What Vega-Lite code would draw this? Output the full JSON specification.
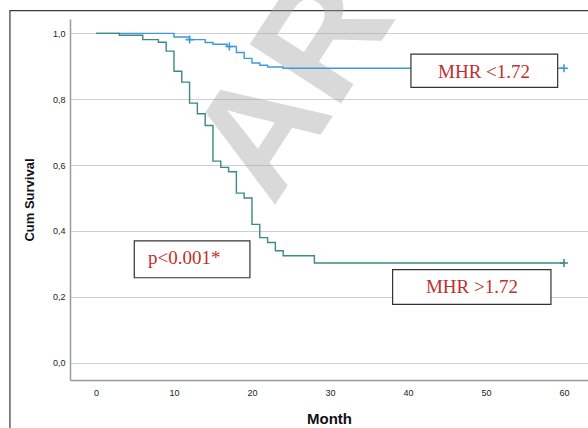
{
  "$schema": "https://vega.github.io/schema/vega-lite/v6.json",
  "width": 518,
  "height": 361,
  "autosize": {"type": "none"},
  "padding": {"left": 70, "top": 19, "right": 0, "bottom": 48},
  "background": "white",
  "config": {"view": {"stroke": null}, "font": "Liberation Sans"},
  "datasets": {
    "curves": [
      {"group": "MHR <1.72", "t": 0, "s": 1.0},
      {"group": "MHR <1.72", "t": 10, "s": 0.989},
      {"group": "MHR <1.72", "t": 12, "s": 0.981},
      {"group": "MHR <1.72", "t": 14, "s": 0.972},
      {"group": "MHR <1.72", "t": 15, "s": 0.967},
      {"group": "MHR <1.72", "t": 16.8, "s": 0.960},
      {"group": "MHR <1.72", "t": 18, "s": 0.942},
      {"group": "MHR <1.72", "t": 19, "s": 0.924},
      {"group": "MHR <1.72", "t": 20, "s": 0.910},
      {"group": "MHR <1.72", "t": 21, "s": 0.903},
      {"group": "MHR <1.72", "t": 22, "s": 0.898},
      {"group": "MHR <1.72", "t": 24, "s": 0.894},
      {"group": "MHR <1.72", "t": 60, "s": 0.894},
      {"group": "MHR >1.72", "t": 0, "s": 1.0},
      {"group": "MHR >1.72", "t": 3, "s": 0.994},
      {"group": "MHR >1.72", "t": 6, "s": 0.981},
      {"group": "MHR >1.72", "t": 8, "s": 0.973},
      {"group": "MHR >1.72", "t": 9, "s": 0.946},
      {"group": "MHR >1.72", "t": 10, "s": 0.885},
      {"group": "MHR >1.72", "t": 11, "s": 0.852},
      {"group": "MHR >1.72", "t": 12, "s": 0.788},
      {"group": "MHR >1.72", "t": 13, "s": 0.756},
      {"group": "MHR >1.72", "t": 14, "s": 0.720},
      {"group": "MHR >1.72", "t": 15, "s": 0.612},
      {"group": "MHR >1.72", "t": 16, "s": 0.593},
      {"group": "MHR >1.72", "t": 17, "s": 0.580},
      {"group": "MHR >1.72", "t": 18, "s": 0.515},
      {"group": "MHR >1.72", "t": 19, "s": 0.500},
      {"group": "MHR >1.72", "t": 20, "s": 0.420},
      {"group": "MHR >1.72", "t": 21, "s": 0.380},
      {"group": "MHR >1.72", "t": 22, "s": 0.365},
      {"group": "MHR >1.72", "t": 23, "s": 0.340},
      {"group": "MHR >1.72", "t": 24, "s": 0.325},
      {"group": "MHR >1.72", "t": 28, "s": 0.303},
      {"group": "MHR >1.72", "t": 60, "s": 0.303}
    ],
    "censor": [
      {"group": "MHR <1.72", "t": 12, "s": 0.981},
      {"group": "MHR <1.72", "t": 17.1, "s": 0.960},
      {"group": "MHR <1.72", "t": 60, "s": 0.894},
      {"group": "MHR >1.72", "t": 60, "s": 0.303}
    ],
    "boxes": [
      {"t": 40.38, "t2": 59.19, "s": 0.937, "s2": 0.836},
      {"t": 4.91, "t2": 19.74, "s": 0.370, "s2": 0.258},
      {"t": 38.03, "t2": 58.33, "s": 0.283, "s2": 0.177}
    ],
    "labels": [
      {"label": "MHR <1.72", "t": 49.75, "s": 0.883},
      {"label": "p<0.001*", "t": 11.31, "s": 0.3185},
      {"label": "MHR >1.72", "t": 48.2, "s": 0.229}
    ],
    "frame": [
      {"t": -11.03, "t2": 120, "s": 1.0687, "s2": -1.5}
    ],
    "wm": [
      {"label": "ARTICLE IN PRESS", "t": 22.7, "s": 0.47}
    ]
  },
  "encoding": {
    "x": {
      "field": "t",
      "type": "quantitative",
      "scale": {"domain": [-3.33, 63.08], "nice": false, "zero": false},
      "axis": {
        "values": [0, 10, 20, 30, 40, 50, 60],
        "title": "Month",
        "grid": false,
        "ticks": false,
        "labelFontSize": 9,
        "labelPadding": 8,
        "labelColor": "#222222",
        "titleFontSize": 15,
        "titleFontWeight": "bold",
        "titleColor": "#111111",
        "titlePadding": 14,
        "domainColor": "#9a9a9a",
        "domainWidth": 1.5
      }
    },
    "y": {
      "field": "s",
      "type": "quantitative",
      "scale": {"domain": [-0.0523, 1.0435], "nice": false, "zero": false},
      "axis": {
        "values": [0, 0.2, 0.4, 0.6, 0.8, 1],
        "labelExpr": "replace(format(datum.value, '.1f'), '.', ',')",
        "title": "Cum Survival",
        "grid": true,
        "gridColor": "#cfcfcf",
        "gridWidth": 1,
        "ticks": false,
        "labelFontSize": 9,
        "labelPadding": 5,
        "labelColor": "#222222",
        "titleFontSize": 13,
        "titleFontWeight": "bold",
        "titleColor": "#111111",
        "titlePadding": 16,
        "domainColor": "#9a9a9a",
        "domainWidth": 1.5
      }
    }
  },
  "layer": [
    {
      "data": {"name": "frame"},
      "mark": {"type": "rect", "fill": "transparent", "stroke": "#3a3a3a", "strokeWidth": 1.2},
      "encoding": {"x2": {"field": "t2"}, "y2": {"field": "s2"}}
    },
    {
      "data": {"name": "wm"},
      "mark": {"type": "text", "angle": -57, "align": "left", "baseline": "alphabetic", "fontSize": 158, "fontWeight": "bold", "fill": "#a6a6a6", "opacity": 0.42, "font": "Liberation Sans"},
      "encoding": {"text": {"field": "label"}}
    },
    {
      "data": {"name": "curves"},
      "mark": {"type": "line", "interpolate": "step-after", "strokeWidth": 1.4},
      "encoding": {
        "color": {"field": "group", "type": "nominal", "scale": {"domain": ["MHR <1.72", "MHR >1.72"], "range": ["#3d9ad9", "#3b8a83"]}, "legend": null}
      }
    },
    {
      "data": {"name": "censor"},
      "mark": {"type": "point", "shape": "M-1,0L1,0M0,-1L0,1", "filled": false, "size": 64, "strokeWidth": 1.6, "opacity": 1},
      "encoding": {"color": {"field": "group", "type": "nominal", "legend": null}}
    },
    {
      "data": {"name": "boxes"},
      "mark": {"type": "rect", "fill": "white", "stroke": "#333333", "strokeWidth": 1.2},
      "encoding": {"x2": {"field": "t2"}, "y2": {"field": "s2"}}
    },
    {
      "data": {"name": "labels"},
      "mark": {"type": "text", "font": "Liberation Serif", "fontSize": 19, "fill": "#c0302e", "align": "center", "baseline": "middle"},
      "encoding": {"text": {"field": "label"}}
    }
  ]
}
